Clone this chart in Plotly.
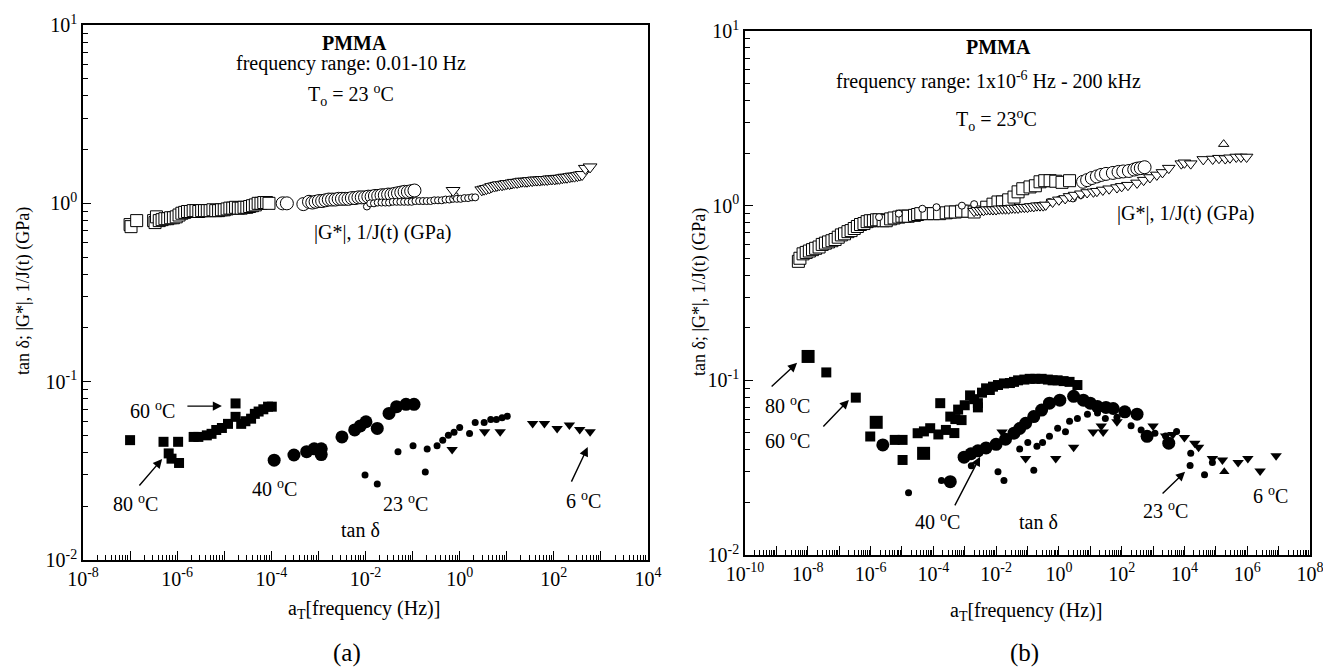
import plotly.graph_objects as go

W, H = 1323, 670
FONT = "Liberation Serif"

# ---------------- Panel (a) data  (log10 of aT*frequency [Hz], value) ----------------
# |G*|, 1/J(t) : open squares
a_gsq_f = [-7.00, -6.98, -6.86, -6.50, -6.47, -6.44, -6.38, -6.32, -6.26, -6.20, -6.14, -6.08, -6.02,
           -5.96, -5.90, -5.84, -5.78, -5.72, -5.66, -5.60, -5.54, -5.48, -5.42, -5.36, -5.30, -5.24,
           -5.18, -5.12, -5.06, -5.00, -4.94, -4.88, -4.82, -4.76, -4.70, -4.64, -4.58, -4.52, -4.46,
           -4.40, -4.34, -4.28, -4.22, -4.16, -4.10, -4.05]
a_gsq_v = [0.76, 0.74, 0.80, 0.80, 0.78, 0.84, 0.80, 0.81, 0.82, 0.82, 0.83, 0.83, 0.84,
           0.86, 0.88, 0.89, 0.90, 0.90, 0.91, 0.91, 0.90, 0.91, 0.91, 0.91, 0.91, 0.92,
           0.91, 0.91, 0.92, 0.92, 0.93, 0.94, 0.94, 0.95, 0.94, 0.94, 0.95, 0.95, 0.96,
           0.97, 0.98, 1.00, 1.00, 1.01, 1.01, 1.00]
# open big circles
a_gci_f = [-3.76, -3.67, -3.32, -3.20, -3.13, -3.06, -2.99, -2.92, -2.85, -2.78, -2.71, -2.64, -2.57,
           -2.50, -2.43, -2.36, -2.29, -2.22, -2.15, -2.08, -2.01, -1.94, -1.87, -1.80, -1.73, -1.66,
           -1.59, -1.52, -1.45, -1.38, -1.31, -1.24, -1.17, -1.10, -1.03, -0.96]
a_gci_v = [1.00, 1.00, 0.99, 1.02, 1.01, 1.02, 1.03, 1.03, 1.04, 1.05, 1.05, 1.05, 1.06,
           1.06, 1.06, 1.06, 1.07, 1.07, 1.08, 1.08, 1.08, 1.09, 1.09, 1.10, 1.10, 1.11,
           1.11, 1.12, 1.12, 1.13, 1.14, 1.15, 1.16, 1.16, 1.17, 1.18]
# open small circles
a_gsc_f = [-1.97, -1.90, -1.82, -1.74, -1.66, -1.58, -1.50, -1.42, -1.34, -1.26, -1.18, -1.10, -1.02,
           -0.94, -0.86, -0.78, -0.70, -0.62, -0.54, -0.46, -0.38, -0.30, -0.22, -0.14, -0.10, -0.06,
           0.02, 0.10, 0.18, 0.26, 0.33]
a_gsc_v = [0.96, 1.00, 1.00, 1.01, 1.01, 1.01, 1.01, 1.02, 1.02, 1.02, 1.02, 1.02, 1.02,
           1.03, 1.03, 1.03, 1.03, 1.03, 1.04, 1.04, 1.04, 1.05, 1.05, 1.06, 1.10, 1.06,
           1.06, 1.07, 1.07, 1.08, 1.08]
# open down triangles
a_gtr_f = [-0.14, 0.47, 0.52, 0.57, 0.63, 0.68, 0.74, 0.79, 0.84, 0.90, 0.95, 1.00, 1.06, 1.11, 1.16,
           1.22, 1.27, 1.32, 1.38, 1.43, 1.48, 1.54, 1.59, 1.64, 1.70, 1.75, 1.80, 1.86, 1.91, 1.96,
           2.02, 2.07, 2.12, 2.18, 2.23, 2.28, 2.34, 2.39, 2.44, 2.50, 2.55, 2.60, 2.67, 2.77]
a_gtr_v = [1.18, 1.19, 1.20, 1.21, 1.22, 1.24, 1.25, 1.26, 1.27, 1.27, 1.28, 1.29, 1.29, 1.30, 1.31,
           1.31, 1.32, 1.33, 1.33, 1.33, 1.34, 1.34, 1.35, 1.35, 1.35, 1.36, 1.36, 1.36, 1.37, 1.37,
           1.37, 1.38, 1.38, 1.39, 1.40, 1.40, 1.41, 1.42, 1.42, 1.43, 1.44, 1.45, 1.57, 1.60]

# tan delta : filled squares (80/60 C)
a_tsq_f = [-7.00, -6.29, -5.98, -6.18, -6.12, -5.96, -5.65, -5.55, -5.37, -5.27, -5.17, -5.05, -4.92,
           -4.76, -4.76, -4.64, -4.55, -4.43, -4.35, -4.27, -4.17, -4.07, -3.99]
a_tsq_v = [0.047, 0.046, 0.046, 0.0396, 0.037, 0.035, 0.049, 0.049, 0.050, 0.051, 0.0536, 0.055, 0.058,
           0.0635, 0.0755, 0.058, 0.060, 0.062, 0.066, 0.068, 0.070, 0.0724, 0.0724]
# filled big circles (40 C)
a_tci_f = [-3.94, -3.52, -3.25, -3.09, -2.94, -2.94, -2.50, -2.23, -2.11, -1.99, -1.75, -1.50, -1.34,
           -1.14, -0.97]
a_tci_v = [0.0363, 0.0388, 0.0405, 0.042, 0.042, 0.039, 0.049, 0.0536, 0.0565, 0.0596, 0.0547, 0.0664,
           0.0724, 0.0746, 0.0746]
# filled small circles (23 C)
a_tsc_f = [-2.01, -1.75, -1.31, -0.99, -0.73, -0.69, -0.48, -0.36, -0.24, -0.12, 0.00, 0.21, 0.33,
           0.52, 0.66, 0.78, 0.90, 1.01]
a_tsc_v = [0.030, 0.0267, 0.0404, 0.0437, 0.0311, 0.0419, 0.0437, 0.047, 0.050, 0.052, 0.0553, 0.0512,
           0.059, 0.059, 0.0613, 0.0613, 0.0628, 0.064]
# filled down triangles (6 C)
a_ttr_f = [-0.16, 0.53, 0.86, 1.55, 1.80, 2.07, 2.33, 2.55, 2.77]
a_ttr_v = [0.0417, 0.0524, 0.0524, 0.0583, 0.0583, 0.0547, 0.0571, 0.054, 0.0524]

# ---------------- Panel (b) data ----------------
b_gsq_f = [-8.30, -8.25, -8.15, -8.05, -7.95, -7.85, -7.75, -7.64, -7.54, -7.44, -7.34, -7.23, -7.13,
           -7.03, -6.93, -6.83, -6.72, -6.62, -6.52, -6.42, -6.32, -6.21, -6.11, -6.01, -5.91, -5.81,
           -5.73, -5.60, -5.50, -5.36, -5.25, -5.10, -5.00, -4.90, -4.80, -4.60, -4.50, -4.40, -4.20,
           -4.00, -3.80, -3.59, -3.45, -3.30, -3.10, -2.90, -2.70, -2.30, -2.10, -1.94, -1.80, -1.60,
           -1.43, -1.30, -1.15, -0.92, -0.75, -0.60, -0.45, -0.28, -0.10, 0.10, 0.34]
b_gsq_v = [0.48, 0.50, 0.53, 0.54, 0.55, 0.56, 0.57, 0.58, 0.60, 0.61, 0.62, 0.63, 0.64,
           0.66, 0.68, 0.69, 0.71, 0.72, 0.74, 0.76, 0.78, 0.79, 0.81, 0.82, 0.82, 0.83,
           0.83, 0.82, 0.82, 0.84, 0.85, 0.86, 0.87, 0.87, 0.87, 0.88, 0.89, 0.90, 0.90,
           0.90, 0.90, 0.91, 0.92, 0.92, 0.93, 0.93, 0.92, 0.98, 1.02, 1.05, 1.05, 1.08,
           1.12, 1.20, 1.25, 1.28, 1.30, 1.37, 1.39, 1.39, 1.38, 1.36, 1.39]
b_gsc_f = [-5.73, -5.10, -4.35, -3.90, -3.09, -2.70, -0.60, -0.30, 0.00, 0.45, 0.70]
b_gsc_v = [0.86, 0.90, 0.96, 0.98, 1.00, 1.02, 1.00, 1.05, 1.08, 1.10, 1.15]
b_gci_f = [0.77, 0.90, 1.05, 1.21, 1.35, 1.50, 1.72, 1.90, 2.05, 2.23, 2.40, 2.50, 2.61, 2.73]
b_gci_v = [1.37, 1.40, 1.44, 1.47, 1.50, 1.52, 1.54, 1.56, 1.57, 1.58, 1.61, 1.63, 1.64, 1.66]
b_gtr_f = [-2.70, -2.60, -2.50, -2.40, -2.30, -2.20, -2.10, -2.00, -1.90, -1.80, -1.70, -1.60, -1.50,
           -1.40, -1.30, -1.20, -1.10, -1.00, -0.90, -0.80, -0.70, -0.60, -0.50, -0.42, -0.20, 0.00,
           0.20, 0.34, 0.50, 0.70, 0.90, 1.10, 1.21, 1.40, 1.60, 1.85, 2.00, 2.20, 2.49, 2.70, 2.90,
           3.12, 3.30, 3.50, 3.90, 4.00, 4.20, 4.60, 4.90, 5.10, 5.30, 5.45, 5.65, 5.80, 5.98]
b_gtr_v = [0.93, 0.94, 0.94, 0.94, 0.95, 0.95, 0.95, 0.95, 0.96, 0.96, 0.96, 0.96, 0.97,
           0.97, 0.97, 0.98, 0.98, 0.98, 0.99, 0.99, 1.00, 1.00, 1.00, 1.01, 1.05, 1.08,
           1.10, 1.13, 1.15, 1.17, 1.19, 1.20, 1.21, 1.23, 1.25, 1.27, 1.29, 1.31, 1.35, 1.40, 1.45,
           1.50, 1.55, 1.64, 1.74, 1.76, 1.74, 1.84, 1.85, 1.87, 1.86, 1.88, 1.90, 1.90, 1.90]
b_gut_f = [5.25]
b_gut_v = [2.25]

b_tsq_f = [-7.41, -6.47, -6.01, -5.23, -4.98, -4.98, -4.50, -4.30, -4.10, -3.84, -3.78, -3.60,
           -3.46, -3.33, -3.30, -3.21, -3.10, -3.00, -2.83, -2.70, -2.58, -2.58, -2.45, -2.32, -2.20,
           -2.10, -1.94, -1.75, -1.56, -1.43, -1.30, -1.10, -0.93, -0.75, -0.55, -0.35, -0.20, -0.04,
           0.15, 0.34, 0.59]
b_tsq_v = [0.111, 0.0796, 0.0477, 0.0456, 0.0456, 0.035, 0.0498, 0.051, 0.0532, 0.049, 0.074, 0.052,
           0.062, 0.0499, 0.060, 0.068, 0.0592, 0.072, 0.082, 0.078, 0.074, 0.070, 0.085, 0.090, 0.088,
           0.092, 0.094, 0.096, 0.0965, 0.098, 0.100, 0.101, 0.102, 0.102, 0.102, 0.101, 0.100, 0.100,
           0.099, 0.098, 0.094]
b_tbq_f = [-7.99, -5.82, -4.31]
b_tbq_v = [0.137, 0.0575, 0.0382]
b_tci_f = [-5.61, -3.46, -3.02, -2.80, -2.58, -2.32, -2.00, -1.70, -1.43, -1.25, -1.06, -0.80, -0.55,
           -0.30, 0.03, 0.47, 0.78, 1.00, 1.23, 1.50, 1.73, 2.10, 2.49, 2.81, 3.50]
b_tci_v = [0.0427, 0.0263, 0.0363, 0.038, 0.0395, 0.041, 0.043, 0.046, 0.0498, 0.053, 0.0568, 0.062,
           0.0676, 0.074, 0.077, 0.081, 0.077, 0.074, 0.0708, 0.070, 0.069, 0.066, 0.064, 0.0478, 0.0437]
b_tsc_f = [-4.79, -3.74, -2.79, -1.94, -1.75, -1.25, -0.99, -0.80, -0.70, -0.52, -0.30, -0.04, 0.21,
           0.34, 0.59, 0.91, 1.23, 1.48, 1.85, 2.30, 2.62, 3.06, 3.40, 3.75, 4.20, 4.18, 4.64, 4.89]
b_tsc_v = [0.0227, 0.0267, 0.0324, 0.030, 0.0267, 0.0405, 0.044, 0.0306, 0.042, 0.044, 0.0478, 0.0532,
           0.0508, 0.0583, 0.0604, 0.064, 0.065, 0.0604, 0.0615, 0.055, 0.052, 0.0498, 0.048, 0.051,
           0.0382, 0.0325, 0.0288, 0.0338]
b_ttr_f = [-1.81, -1.06, -0.10, 0.47, 1.09, 1.41, 1.35, 1.85, 3.00, 3.40, 3.63, 4.00, 4.33, 4.45,
           4.89, 5.21, 5.71, 6.02, 6.41, 6.92]
b_ttr_v = [0.0506, 0.0357, 0.0357, 0.0414, 0.0506, 0.0506, 0.0548, 0.058, 0.0548, 0.048, 0.049, 0.047,
           0.0437, 0.0414, 0.0357, 0.035, 0.0338, 0.0357, 0.0303, 0.037]
b_tut_f = [5.27]
b_tut_v = [0.030]

# axis tick definitions
a_x_dec = list(range(-8, 5))
b_x_dec = list(range(-10, 9))
y_dec = list(range(-2, 2))


def hz(lst):
    return [10 ** v for v in lst]


def lab(d, every=2, start=0):
    return "10<sup>%d</sup>" % d if (d - start) % every == 0 else ""


fig = go.Figure()


def add(xf, yv, ax, symbol, size, filled=True, lw=1.0):
    fig.add_trace(go.Scatter(
        x=hz(xf), y=yv, mode="markers", xaxis="x" if ax == 1 else "x2",
        yaxis="y" if ax == 1 else "y2", showlegend=False, hoverinfo="skip",
        marker=dict(symbol=symbol, size=size,
                    color="black" if filled else "white",
                    line=dict(color="black", width=0 if filled else lw))))


# panel a
add(a_gsq_f, a_gsq_v, 1, "square", 12, False)
add(a_gci_f, a_gci_v, 1, "circle", 13, False)
add(a_gsc_f, a_gsc_v, 1, "circle", 7, False)
add(a_gtr_f, a_gtr_v, 1, "triangle-down", 12, False)
add(a_tsq_f, a_tsq_v, 1, "square", 10)
add(a_tci_f, a_tci_v, 1, "circle", 13)
add(a_tsc_f, a_tsc_v, 1, "circle", 7)
add(a_ttr_f, a_ttr_v, 1, "triangle-down", 10)
# panel b
add(b_gsq_f, b_gsq_v, 2, "square", 12, False)
add(b_gsc_f, b_gsc_v, 2, "circle", 7, False)
add(b_gtr_f, b_gtr_v, 2, "triangle-down", 11, False)
add(b_gci_f, b_gci_v, 2, "circle", 13, False)
add(b_gut_f, b_gut_v, 2, "triangle-up", 9, False)
add(b_tsq_f, b_tsq_v, 2, "square", 10)
add(b_tbq_f, b_tbq_v, 2, "square", 13)
add(b_tci_f, b_tci_v, 2, "circle", 13)
add(b_tsc_f, b_tsc_v, 2, "circle", 7)
add(b_ttr_f, b_ttr_v, 2, "triangle-down", 10)
add(b_tut_f, b_tut_v, 2, "triangle-up", 9)


def minor_vals(d0, d1):
    return [k * 10 ** d for d in range(d0, d1) for k in range(2, 10)]


def axis_common():
    return dict(type="log", showline=True, linecolor="black", linewidth=1.6, mirror=True,
                ticks="inside", ticklen=9, tickwidth=1.3, tickcolor="black",
                showgrid=False, zeroline=False, tickmode="array", automargin=False,
                ticklabeloverflow="allow",
                tickfont=dict(family=FONT, size=20, color="black"))


xa = axis_common()
xa.update(domain=[83 / W, 648 / W], range=[-8, 4], anchor="y",
          tickvals=hz(a_x_dec), ticktext=[lab(d) for d in a_x_dec],
          minor=dict(ticks="inside", ticklen=5, tickwidth=1, tickcolor="black",
                     tickvals=minor_vals(-8, 4), showgrid=False))
ya = axis_common()
ya.update(domain=[1 - 560 / H, 1 - 25 / H], range=[-2, 1], anchor="x",
          tickvals=hz(y_dec + [1]), ticktext=[lab(d, 1) for d in y_dec + [1]],
          ticklen=8,
          minor=dict(ticks="inside", ticklen=5, tickwidth=1, tickcolor="black",
                     tickvals=minor_vals(-2, 1), showgrid=False))
xb = axis_common()
xb.update(domain=[745 / W, 1310 / W], range=[-10, 8], anchor="y2",
          tickvals=hz(b_x_dec), ticktext=[lab(d) for d in b_x_dec],
          minor=dict(ticks="inside", ticklen=5, tickwidth=1, tickcolor="black",
                     tickvals=minor_vals(-10, 8), showgrid=False))
yb = axis_common()
yb.update(domain=[1 - 555 / H, 1 - 31 / H], range=[-2, 1], anchor="x2",
          tickvals=hz(y_dec + [1]), ticktext=[lab(d, 1) for d in y_dec + [1]],
          ticklen=8,
          minor=dict(ticks="inside", ticklen=5, tickwidth=1, tickcolor="black",
                     tickvals=minor_vals(-2, 1), showgrid=False))

ann = []


def txt(s, px, py, size=20, angle=0):
    ann.append(dict(text=s, x=px / W, y=1 - py / H, xref="paper", yref="paper",
                    showarrow=False, xanchor="center", yanchor="middle", textangle=angle,
                    font=dict(family=FONT, size=size, color="black")))


def arrow(lx, ly, ax, ay, xr, yr):
    ann.append(dict(text="", x=lx, y=ly, xref=xr, yref=yr, ax=ax, ay=ay, showarrow=True,
                    arrowhead=2, arrowsize=1.3, arrowwidth=1.4, arrowcolor="black",
                    standoff=0, startstandoff=0))


# panel a texts
txt("<b>PMMA</b>", 355, 43)
txt("frequency range: 0.01-10 Hz", 351, 63)
txt("T<sub>o</sub> = 23 <sup>o</sup>C", 351, 95)
txt("|G*|, 1/J(t) (GPa)", 382, 232)
txt("60 <sup>o</sup>C", 152, 410)
txt("80 <sup>o</sup>C", 135, 503)
txt("40 <sup>o</sup>C", 274, 488)
txt("23 <sup>o</sup>C", 405, 503)
txt("6 <sup>o</sup>C", 583, 500)
txt("tan δ", 360, 530)
txt("a<sub>T</sub>[frequency (Hz)]", 364, 609)
txt("tan δ; |G*|, 1/J(t) (GPa)", 23, 291, size=18, angle=-90)
txt("(a)", 347, 653, size=25)
arrow(-5.05, -1.137, -36, 0, "x", "y")
arrow(-6.32, -1.434, -24, 28, "x", "y")
arrow(2.72, -1.367, -17, 36, "x", "y")

# panel b texts
txt("<b>PMMA</b>", 998, 47)
txt("frequency range: 1x10<sup>-6</sup> Hz - 200 kHz", 988, 80)
txt("T<sub>o</sub> = 23<sup>o</sup>C", 996, 120)
txt("|G*|, 1/J(t) (GPa)", 1185, 213)
txt("80 <sup>o</sup>C", 787, 405)
txt("60 <sup>o</sup>C", 787, 440)
txt("40 <sup>o</sup>C", 937, 521)
txt("tan δ", 1038, 522)
txt("23 <sup>o</sup>C", 1165, 510)
txt("6 <sup>o</sup>C", 1270, 495)
txt("a<sub>T</sub>[frequency (Hz)]", 1026, 611)
txt("tan δ; |G*|, 1/J(t) (GPa)", 699, 292, size=18, angle=-90)
txt("(b)", 1024, 653, size=25)
arrow(-8.34, -0.900, -27, 25, "x2", "y2")
arrow(-6.69, -1.112, -27, 28, "x2", "y2")
arrow(-2.51, -1.438, -26, 50, "x2", "y2")
arrow(4.02, -1.524, -24, 23, "x2", "y2")

fig.update_layout(width=W, height=H, margin=dict(l=0, r=0, t=0, b=0, autoexpand=False),
                  paper_bgcolor="white", plot_bgcolor="white",
                  xaxis=xa, yaxis=ya, xaxis2=xb, yaxis2=yb, annotations=ann,
                  showlegend=False, font=dict(family=FONT, color="black"))
fig.write_html("out.html", config={"displayModeBar": False},
               post_script="document.body.style.margin='0px';document.body.style.overflow='hidden';")
